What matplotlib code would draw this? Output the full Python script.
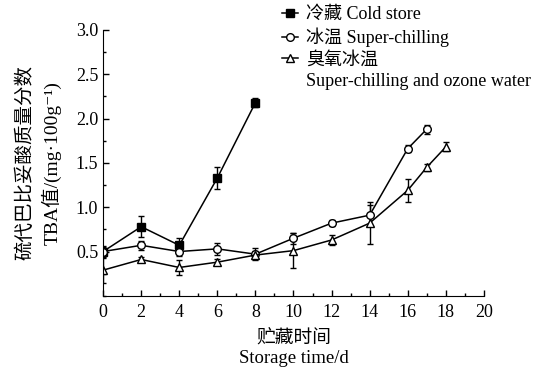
import numpy as np
import matplotlib.pyplot as plt
from matplotlib.ticker import MultipleLocator
from matplotlib.lines import Line2D

plt.rcParams['font.family'] = ['Liberation Serif', 'Noto Sans CJK SC', 'DejaVu Sans']

# 冷藏 Cold store
x_cold = [0, 2, 4, 6, 8]
y_cold = [0.50, 0.78, 0.57, 1.33, 2.18]
e_cold = [0.06, 0.12, 0.08, 0.12, 0.05]

# 冰温 Super-chilling
x_sc = [0, 2, 4, 6, 8, 10, 12, 14, 16, 17]
y_sc = [0.50, 0.57, 0.50, 0.53, 0.47, 0.65, 0.82, 0.91, 1.66, 1.88]
e_sc = [0.05, 0.05, 0.05, 0.07, 0.07, 0.06, 0.03, 0.12, 0.04, 0.05]

# 臭氧冰温 Super-chilling and ozone water
x_oz = [0, 2, 4, 6, 8, 10, 12, 14, 16, 17, 18]
y_oz = [0.29, 0.41, 0.32, 0.38, 0.46, 0.51, 0.63, 0.82, 1.19, 1.45, 1.68]
e_oz = [0.14, 0.03, 0.08, 0.03, 0.05, 0.2, 0.06, 0.24, 0.13, 0.04, 0.05]

fig = plt.figure(figsize=(5.4, 3.74), dpi=100)
ax = fig.add_axes([0.191, 0.209, 0.705, 0.711])

kw = dict(color='black', lw=1.1, elinewidth=1.0, capsize=2.5, capthick=1.0, ms=5.5)
ax.errorbar(x_cold, y_cold, yerr=e_cold, fmt='-s', mfc='black', mec='black', **kw)
ax.errorbar(x_sc, y_sc, yerr=e_sc, fmt='-o', mfc='white', mec='black', **kw)
ax.errorbar(x_oz, y_oz, yerr=e_oz, fmt='-^', mfc='white', mec='black', **kw)

ax.set_xlim(0, 20)
ax.set_ylim(0, 3.0)
ax.set_xticks(np.arange(0, 21, 2))
ax.set_yticks([0.5, 1.0, 1.5, 2.0, 2.5, 3.0])
ax.xaxis.set_minor_locator(MultipleLocator(1))
ax.yaxis.set_minor_locator(MultipleLocator(0.25))
ax.tick_params(which='both', direction='in', labelsize=13, width=1)
ax.tick_params(which='major', length=4)
ax.tick_params(which='minor', length=2)
ax.tick_params(axis='x', pad=6)
ax.spines['top'].set_visible(False)
ax.spines['right'].set_visible(False)

ax.set_xlabel('贮藏时间\nStorage time/d', fontsize=13.5, linespacing=1.25, labelpad=6)
ax.set_ylabel('硫代巴比妥酸质量分数\nTBA值/(mg·100g⁻¹)', fontsize=14, linespacing=1.45, labelpad=10)

hkw = dict(color='black', lw=1.1, ms=5.5, mec='black')
handles = [Line2D([], [], marker='s', mfc='black', **hkw),
           Line2D([], [], marker='o', mfc='white', **hkw),
           Line2D([], [], marker='^', mfc='white', **hkw),
           Line2D([], [], lw=0)]
labels = ['冷藏 Cold store', '冰温 Super-chilling', '臭氧冰温',
          'Super-chilling and ozone water']
ax.legend(handles, labels, loc='upper left', bbox_to_anchor=(0.47, 1.09),
          frameon=False, fontsize=13, handlelength=0.9, handletextpad=0.45,
          labelspacing=0.25, borderaxespad=0, borderpad=0)

fig.savefig('out.png', dpi=100)
